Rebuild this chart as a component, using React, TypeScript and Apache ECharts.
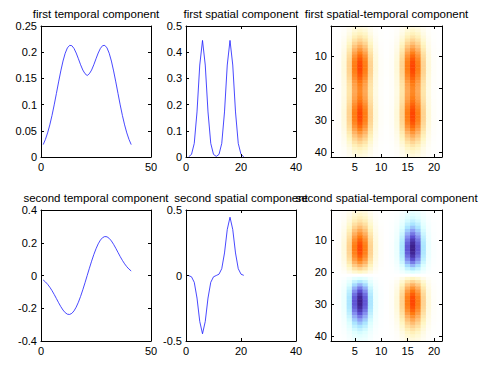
import React, { useEffect, useRef } from 'react';
import * as echarts from 'echarts';

// first temporal component (t = 1..41)
const temporal1 = [
  0.0237, 0.0335, 0.046, 0.0613, 0.0793, 0.0995, 0.1212, 0.1433, 0.1643, 0.1831,
  0.198, 0.2082, 0.213, 0.2125, 0.2072, 0.1984, 0.1875, 0.176, 0.166, 0.159,
  0.1555,
  0.159, 0.166, 0.176, 0.1875, 0.1984, 0.2072, 0.2125, 0.213, 0.2082, 0.198,
  0.1831, 0.1643, 0.1433, 0.1212, 0.0995, 0.0793, 0.0613, 0.046, 0.0335, 0.0237,
];
// first spatial component (s = 1..21)
const spatial1 = [
  0.0012, 0.0099, 0.052, 0.172, 0.351, 0.445, 0.351, 0.172, 0.052, 0.01, 0.0023,
  0.01, 0.052, 0.172, 0.351, 0.445, 0.351, 0.172, 0.052, 0.0099, 0.0012,
];
// second temporal component (t = 1..41)
const temporal2 = [
  -0.0275, -0.039, -0.0536, -0.0714, -0.0923, -0.1157, -0.1408, -0.1662, -0.1902, -0.211,
  -0.2269, -0.2363, -0.2379, -0.2313, -0.2162, -0.1932, -0.1632, -0.1275, -0.0874, -0.0444,
  0,
  0.0444, 0.0874, 0.1275, 0.1632, 0.1932, 0.2162, 0.2313, 0.2379, 0.2363, 0.2269,
  0.211, 0.1902, 0.1662, 0.1408, 0.1157, 0.0923, 0.0714, 0.0536, 0.039, 0.0275,
];
// second spatial component (s = 1..21)
const spatial2 = [
  -0.0012, -0.0099, -0.052, -0.172, -0.351, -0.445, -0.351, -0.172, -0.052, -0.0099, 0,
  0.0099, 0.052, 0.172, 0.351, 0.445, 0.351, 0.172, 0.052, 0.0099, 0.0012,
];

const titles = [
  'first temporal component',
  'first spatial component',
  'first spatial-temporal component',
  'second temporal component',
  'second spatial component',
  'second spatial-temporal component',
];

const heatCols = spatial1.map((_, i) => String(i + 1));
const heatRows = temporal1.map((_, i) => String(i + 1));

const cmap = [
  '#3c1e8c', '#5c50d2', '#8c9cf5', '#a8e4ff', '#dcffff', '#ffffff',
  '#fff5c0', '#ffd08c', '#ffa550', '#ff7a10', '#ff4500',
];

const FONT = '"Liberation Sans", Arial, Helvetica, sans-serif';

export default function App() {
  const ref = useRef<HTMLDivElement>(null);
  useEffect(() => {
    const chart = echarts.init(ref.current!, null, { renderer: 'svg' });

    const colLeft = [41, 186, 331];
    const colWidth = [110, 110, 111];
    const rowTop = [26, 210];
    const H = 131;

    const grids: any[] = [];
    const xAxes: any[] = [];
    const yAxes: any[] = [];
    const series: any[] = [];
    const visualMaps: any[] = [];
    const titleOpts: any[] = [];

    const lineStyle = { show: true, onZero: false, lineStyle: { color: '#000', width: 1 } };
    const tick = { show: true, inside: true, length: 3, lineStyle: { color: '#000', width: 1 } };
    const label = { fontSize: 11, color: '#000', fontFamily: FONT, margin: 4 };

    const lineSpecs = [
      { data: temporal1, xMax: 50, xInt: 50, yMin: 0, yMax: 0.25, yInt: 0.05 },
      { data: spatial1, xMax: 40, xInt: 20, yMin: 0, yMax: 0.5, yInt: 0.1 },
      null,
      { data: temporal2, xMax: 50, xInt: 50, yMin: -0.4, yMax: 0.4, yInt: 0.2 },
      { data: spatial2, xMax: 40, xInt: 20, yMin: -0.5, yMax: 0.5, yInt: 0.5 },
      null,
    ];
    const heatSpecs: any = {
      2: { t: temporal1, s: spatial1 },
      5: { t: temporal2, s: spatial2 },
    };

    for (let g = 0; g < 6; g++) {
      const r = Math.floor(g / 3);
      const c = g % 3;
      grids.push({ left: colLeft[c], top: rowTop[r], width: colWidth[c], height: H, containLabel: false });
      titleOpts.push({
        text: titles[g],
        left: colLeft[c] + colWidth[c] / 2,
        top: rowTop[r] - 18,
        textAlign: 'center',
        padding: 0,
        textStyle: { fontSize: 11.5, fontWeight: 'normal', color: '#000', fontFamily: FONT },
      });
      const ls = lineSpecs[g];
      if (ls) {
        const xBase = { gridIndex: g, type: 'value', min: 0, max: ls.xMax, interval: ls.xInt, splitLine: { show: false }, axisLine: lineStyle, axisTick: tick, z: 5 };
        const yBase = { gridIndex: g, type: 'value', min: ls.yMin, max: ls.yMax, interval: ls.yInt, splitLine: { show: false }, axisLine: lineStyle, axisTick: tick, z: 5 };
        xAxes.push({ ...xBase, position: 'bottom', axisLabel: label });
        xAxes.push({ ...xBase, position: 'top', axisLabel: { show: false } });
        yAxes.push({ ...yBase, position: 'left', axisLabel: label });
        yAxes.push({ ...yBase, position: 'right', axisLabel: { show: false } });
        series.push({
          type: 'line',
          xAxisIndex: 2 * g,
          yAxisIndex: 2 * g,
          data: ls.data.map((v: number, i: number) => [i + 1, v]),
          showSymbol: false,
          symbol: 'none',
          silent: true,
          lineStyle: { color: '#1a1aff', width: 0.8 },
        });
      } else {
        const hs = heatSpecs[g];
        const xInt = (i: number) => (i + 1) % 5 === 0;
        const yInt = (i: number) => (i + 1) % 10 === 0;
        const xBase = { gridIndex: g, type: 'category', data: heatCols, boundaryGap: true, splitLine: { show: false }, axisLine: lineStyle, axisTick: { ...tick, alignWithLabel: true, interval: xInt }, z: 5 };
        const yBase = { gridIndex: g, type: 'category', data: heatRows, inverse: true, boundaryGap: true, splitLine: { show: false }, axisLine: lineStyle, axisTick: { ...tick, alignWithLabel: true, interval: yInt }, z: 5 };
        xAxes.push({ ...xBase, position: 'bottom', axisLabel: { ...label, interval: xInt } });
        xAxes.push({ ...xBase, position: 'top', axisLabel: { show: false } });
        yAxes.push({ ...yBase, position: 'left', axisLabel: { ...label, interval: yInt } });
        yAxes.push({ ...yBase, position: 'right', axisLabel: { show: false } });
        const data: number[][] = [];
        let m = 0;
        hs.t.forEach((tv: number, ti: number) => {
          hs.s.forEach((sv: number, si: number) => {
            const v = tv * sv;
            m = Math.max(m, Math.abs(v));
            data.push([si, ti, v]);
          });
        });
        visualMaps.push({
          type: 'continuous',
          show: false,
          seriesIndex: series.length,
          dimension: 2,
          min: -m,
          max: m,
          inRange: { color: cmap },
        });
        series.push({
          type: 'heatmap',
          xAxisIndex: 2 * g,
          yAxisIndex: 2 * g,
          data,
          silent: true,
          itemStyle: { borderWidth: 0 },
        });
      }
    }

    chart.setOption({
      animation: false,
      backgroundColor: '#fff',
      title: titleOpts,
      grid: grids,
      xAxis: xAxes,
      yAxis: yAxes,
      visualMap: visualMaps,
      series,
    });
    return () => chart.dispose();
  }, []);
  return (
    <div
      ref={ref}
      style={{ position: 'fixed', left: 0, top: 0, width: 488, height: 369, background: '#fff' }}
    />
  );
}
